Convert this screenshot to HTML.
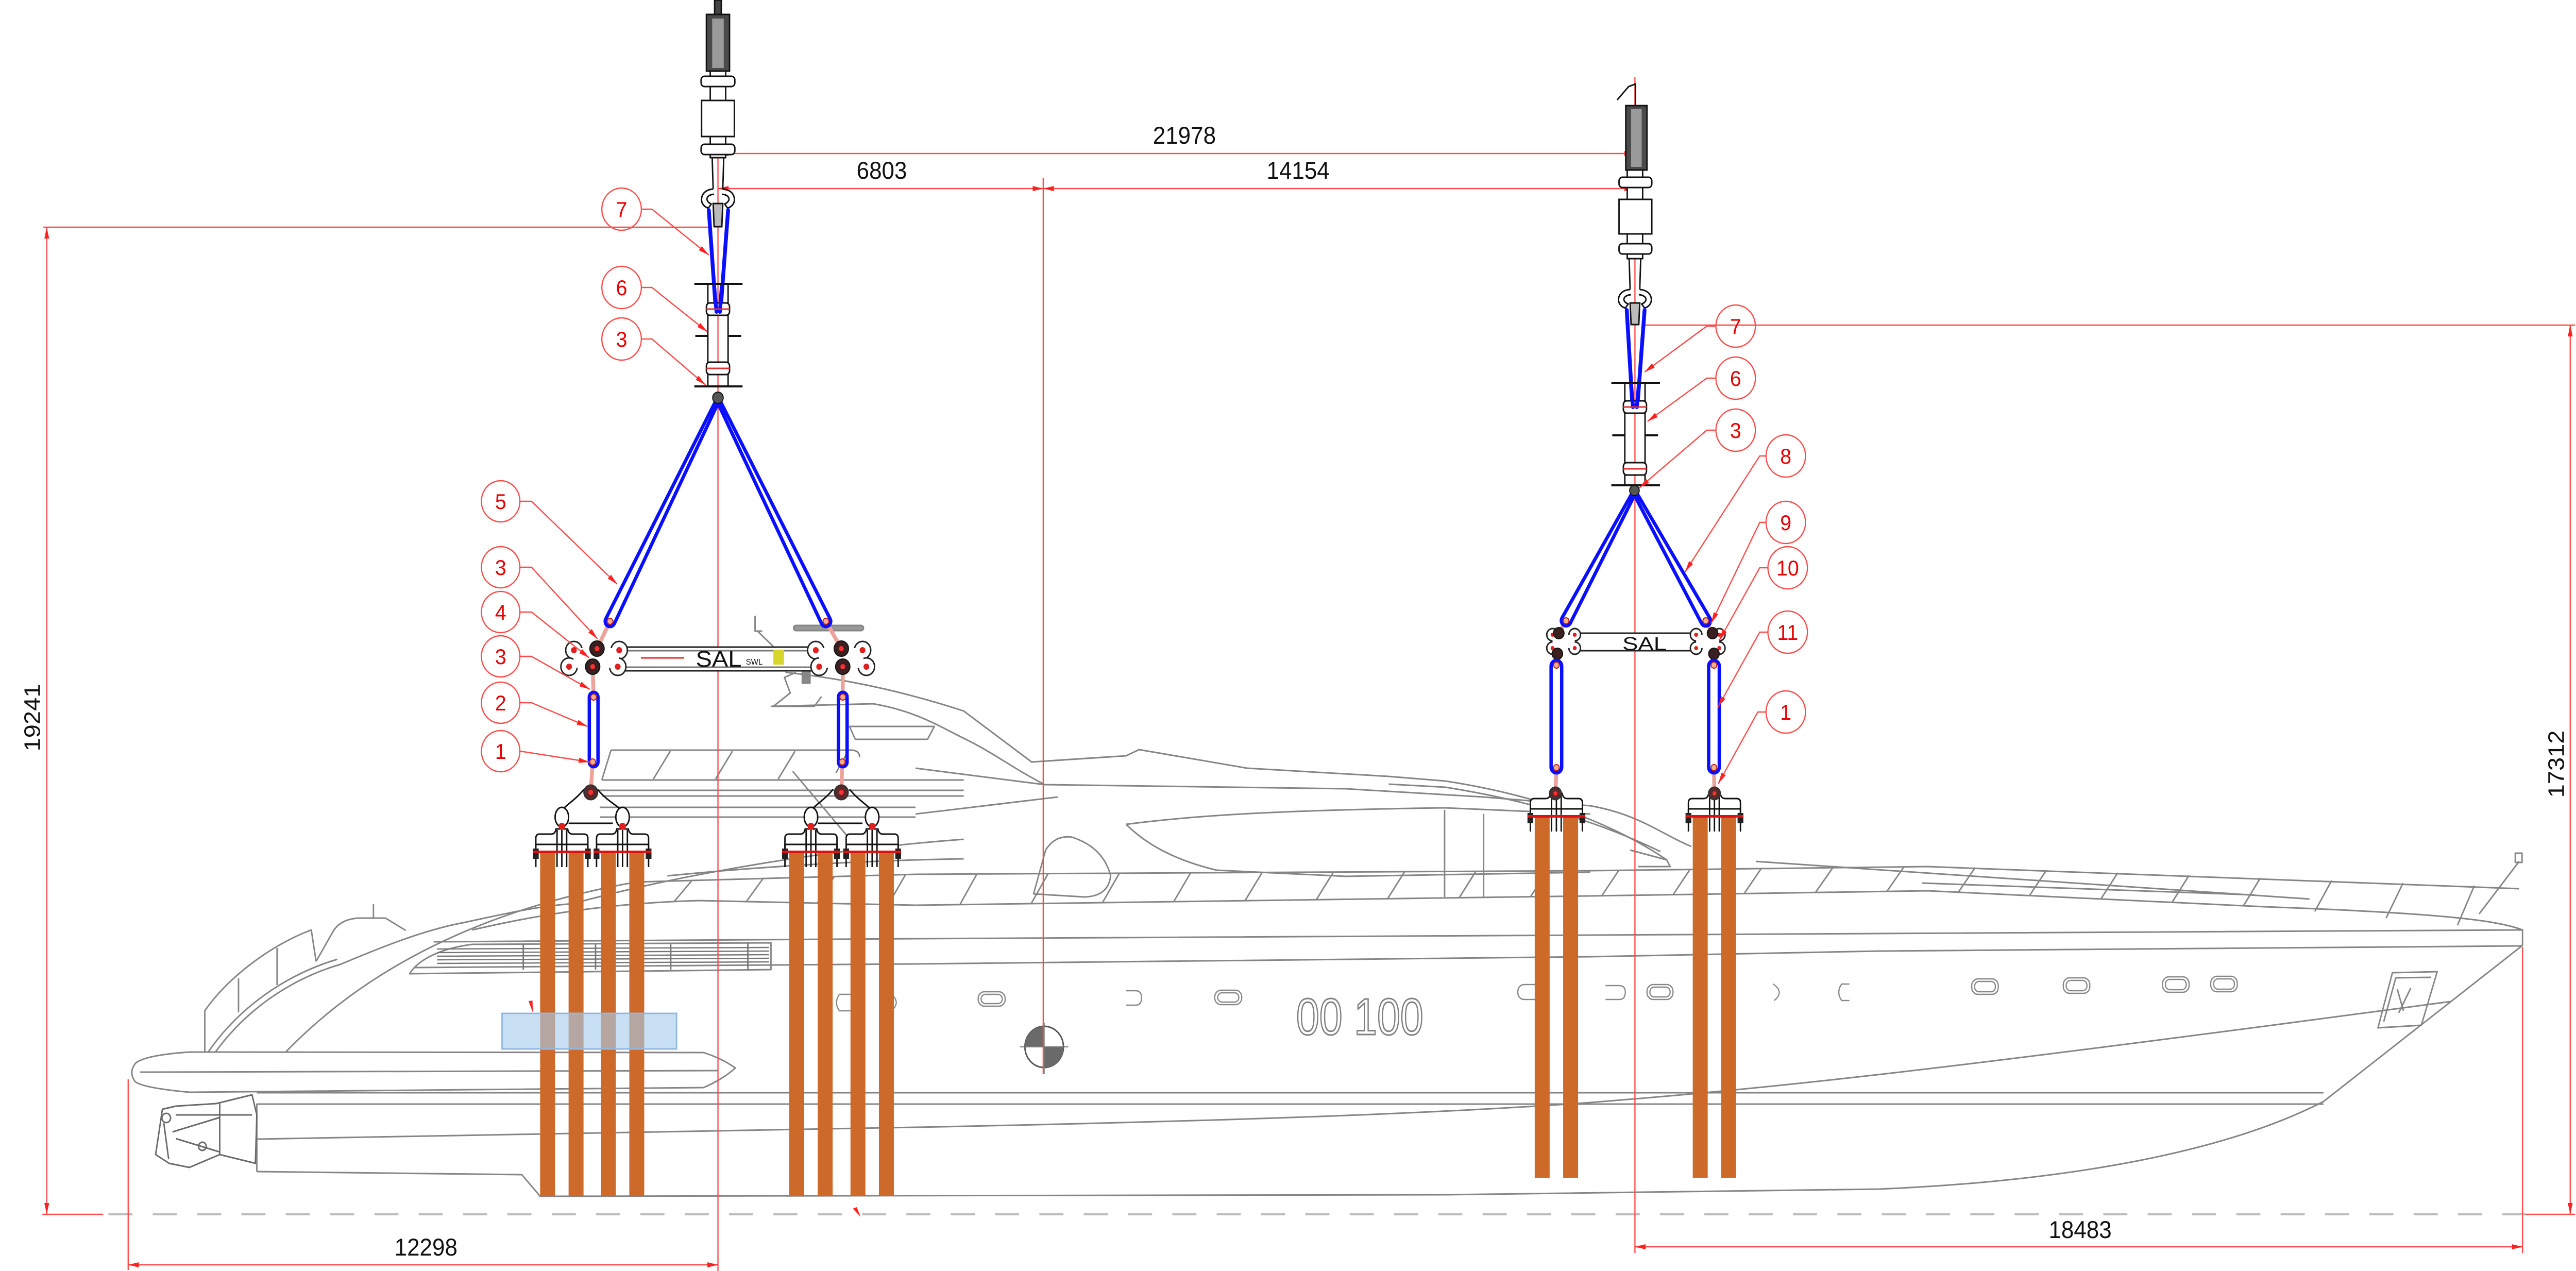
<!DOCTYPE html>
<html><head><meta charset="utf-8">
<meta name="viewport" content="width=device-width, initial-scale=1">
<style>
html,body{margin:0;padding:0;background:#fff;width:100%;height:100%;overflow:hidden;}
svg.main{display:block;position:fixed;left:0;top:0;width:100vw;height:100vh;}
text{font-family:"Liberation Sans",sans-serif;}
</style></head><body>
<svg class="main" xmlns="http://www.w3.org/2000/svg" viewBox="0 0 5346 2467" preserveAspectRatio="none" overflow="hidden">
<defs>
<marker id="a" markerUnits="userSpaceOnUse" markerWidth="22" markerHeight="12" viewBox="0 0 22 12" refX="22" refY="6" orient="auto-start-reverse"><path d="M0,1 L22,6 L0,11 z" fill="#ff2020"/></marker>
<clipPath id="cl1"><rect x="0" y="0" width="5346" height="2322"/></clipPath>
<clipPath id="cl2"><rect x="0" y="0" width="5346" height="2319"/></clipPath>
<g id="clamp">
  <path d="M-54,34 L-54,8 Q-54,0 -46,0 L-22,0 Q-14,0 -12,-10 L12,-10 Q14,0 22,0 L46,0 Q54,0 54,8 L54,34" stroke="#111" stroke-width="3" fill="#fff"/>
  <line x1="-54" y1="20" x2="54" y2="20" stroke="#111" stroke-width="3"/>
  <path d="M-10,-8 L-10,64 M0,-8 L0,64 M10,-8 L10,64 M-54,20 L-54,64 M54,20 L54,64" stroke="#111" stroke-width="3"/>
  <rect x="-60" y="28" width="12" height="20" fill="#222"/>
  <rect x="48" y="28" width="12" height="20" fill="#222"/>
  <rect x="-60" y="32" width="120" height="5" fill="#e01010"/>
</g>
<g id="strap2">
  <rect x="-45" y="0" width="31" height="700" fill="#cd6a2a"/>
  <rect x="14" y="0" width="31" height="700" fill="#cd6a2a"/>
</g>
</defs>
<rect x="0" y="0" width="5346" height="2467" fill="#fff"/>

<!-- ============ HULL (gray) ============ -->
<g fill="none" stroke="#858585" stroke-width="3" stroke-linejoin="round">
  <path d="M533,2274 L1083,2280 L1121,2322 L3000,2319 L3900,2308 C4300,2292 4620,2235 4822,2138 L5235,1835 L5235,1803"/>
  <path d="M533,2142 L533,2274"/>
  <path d="M533,2121 L4822,2121"/>
  <path d="M533,2143 L4822,2143"/>
  <path d="M533,2211 L1900,2188 C2600,2175 3000,2160 3300,2140 C3700,2110 4000,2080 5085,1944"/>
  <path d="M900,1828 L1900,1822 L3300,1815 L3900,1812 L5235,1805"/>
  <path d="M860,1878 L1900,1871 L3300,1857 L3900,1846 L5235,1836"/>
  <path d="M281,2064 Q300,2048 393,2042 L1460,2043 Q1500,2055 1526,2073 Q1500,2095 1460,2111 L393,2120 Q300,2112 281,2100 Q266,2082 281,2064 Z"/>
  <path d="M291,2081 L1490,2078"/>
  <path d="M323,2241 L337,2153 L365,2147 L449,2142 L523,2125 L533,2164 L530,2258 L456,2241 L393,2266 L351,2258 Z" stroke="#6a6a6a"/>
  <path d="M365,2164 L523,2164 M358,2197 L456,2169 M365,2210 L456,2236 M340,2180 L350,2250 M456,2142 L456,2241" stroke="#6a6a6a"/>
  <circle cx="345" cy="2170" r="9" stroke="#6a6a6a"/>
  <circle cx="420" cy="2225" r="8" stroke="#6a6a6a"/>
  <path d="M425,2042 L425,1962 C470,1900 560,1835 646,1805 L656,1866"/>
  <path d="M495,1965 L495,1899 M575,1912 L575,1840"/>
  <path d="M432,2042 C500,1950 600,1890 700,1862"/>
  <path d="M447,2042 C515,1955 610,1898 706,1872"/>
  <path d="M656,1866 L690,1810 C700,1792 720,1783 745,1782 L800,1782 L842,1806"/>
  <path d="M775,1782 L775,1755"/>
  <path d="M706,1872 C800,1835 870,1810 940,1795 C1020,1780 1100,1760 1189,1754"/>
  <path d="M593,2042 C760,1880 1000,1765 1320,1712 L1900,1697 L3300,1690 L4000,1682 L5228,1725"/>
  <path d="M980,1805 C1150,1768 1300,1752 1450,1748 L1900,1757 L3300,1739 L4000,1729 L4700,1760 C5050,1772 5180,1785 5235,1805"/>
  <path d="M1400,1749 L1435,1710 M1548,1751 L1583,1706 M1696,1753 L1731,1702 M1844,1755 L1879,1698 M1992,1756 L2027,1697 M2140,1754 L2175,1696 M2288,1752 L2323,1695 M2436,1750 L2471,1694 M2584,1748 L2619,1694 M2732,1746 L2767,1693 M2880,1744 L2915,1692 M3028,1743 L3063,1691 M3176,1741 L3211,1691 M3324,1739 L3359,1690 M3472,1737 L3507,1688 M3620,1734 L3655,1686 M3768,1732 L3803,1685 M3916,1730 L3951,1683 M4064,1732 L4099,1684 M4212,1738 L4247,1689 M4360,1745 L4395,1694 M4508,1751 L4543,1699 M4656,1758 L4691,1704 M4804,1769 L4839,1709 M4952,1782 L4987,1714 M5100,1796 L5135,1719"/>
  <path d="M5145,1774 L5228,1672"/>
  <rect x="5220" y="1656" width="14" height="18"/>
  <path d="M850,1890 C870,1860 920,1840 980,1833 L1600,1830 L1600,1882 L850,1890 Z"/>
  <path d="M907,1842 L1596,1839 M907,1849 L1596,1846 M907,1856 L1596,1853 M907,1863 L1596,1860 M907,1870 L1596,1867" stroke="#777" stroke-width="2.5"/>
  <path d="M1086,1833 L1086,1882 M1236,1833 L1236,1882 M1392,1833 L1392,1882 M1552,1830 L1552,1882" stroke="#777"/>
  <path d="M1268,1456 L1770,1456 Q1784,1458 1784,1470 M1249,1514 L2000,1514 M1268,1456 L1249,1514"/>
  <path d="M1391,1458 L1356,1512 M1520,1458 L1485,1512 M1650,1458 L1615,1512 M1735,1500 L1760,1458"/>
  <path d="M1242,1534 L2000,1534 M1250,1545 L2000,1545 M1245,1567 L1900,1567 M1245,1586 L1900,1586"/>
  <path d="M1189,1754 C1400,1700 1700,1650 2000,1629 M1385,1700 C1600,1680 1800,1670 2000,1667"/>
  <path d="M1645,1497 L1764,1629 M1763,1410 L1939,1410 L1925,1435 L1775,1435 Z"/>
  <path d="M1567,1195 L1567,1225 L1582,1225 M1572,1225 L1605,1255"/>
  <path d="M1605,1371 L1640,1345 L1628,1315 L1652,1305 M1605,1371 L1690,1371 L1705,1352"/>
  <rect x="1647" y="1214" width="145" height="10" rx="5" fill="#999"/>
  <rect x="1665" y="1300" width="16" height="26" fill="#888"/>
  <path d="M1630,1305 C1780,1320 1900,1350 2000,1380 L2141,1479 L2337,1467 L2364,1455 L2588,1491 L2882,1507 L3000,1516 C3200,1545 3350,1600 3459,1669"/>
  <path d="M1600,1371 L1812,1366 C1900,1380 1950,1410 2000,1433 C2060,1460 2100,1490 2168,1523 L2793,1531 L3079,1547 L3300,1564 C3400,1580 3450,1620 3510,1643"/>
  <path d="M1900,1491 L2168,1523 M1900,1580 L2195,1547 M2882,1522 L3000,1528 C3250,1565 3400,1632 3446,1653"/>
  <path d="M2337,1600 C2500,1580 2700,1572 2998,1568 L3300,1580"/>
  <path d="M2337,1600 C2380,1640 2440,1670 2525,1689 L2793,1701 L3300,1693"/>
  <path d="M2145,1735 L2170,1650 Q2190,1620 2225,1625 Q2290,1645 2305,1700 Q2300,1740 2250,1741 Z"/>
  <path d="M2998,1572 L2998,1741 M3079,1580 L3079,1741"/>
  <path d="M3383,1650 L3459,1669 L3466,1682 L3400,1682"/>
  <path d="M3644,1672 L4793,1745 M3989,1714 L4678,1737"/>
  <g stroke="#888" stroke-width="2.5">
    <rect x="2030" y="1925" width="56" height="28" rx="13"/><rect x="2036" y="1930" width="44" height="18" rx="9"/>
    <rect x="2521" y="1922" width="56" height="28" rx="13"/><rect x="2527" y="1927" width="44" height="18" rx="9"/>
    <rect x="3150" y="1911" width="56" height="29" rx="13"/>
    <rect x="3418" y="1911" width="54" height="29" rx="13"/><rect x="3424" y="1916" width="42" height="19" rx="9"/>
    <rect x="4092" y="1900" width="55" height="30" rx="13"/><rect x="4098" y="1905" width="43" height="20" rx="9"/>
    <rect x="4282" y="1898" width="55" height="30" rx="13"/><rect x="4288" y="1903" width="43" height="20" rx="9"/>
    <rect x="4488" y="1896" width="55" height="30" rx="13"/><rect x="4494" y="1901" width="43" height="20" rx="9"/>
    <rect x="4588" y="1895" width="55" height="30" rx="13"/><rect x="4594" y="1900" width="43" height="20" rx="9"/>
    <path d="M2337,1923 L2357,1923 Q2369,1923 2369,1937 Q2369,1951 2357,1951 L2337,1951"/>
    <path d="M3332,1913 L3360,1913 Q3373,1913 3373,1926 Q3373,1940 3360,1940 L3332,1940"/>
    <path d="M3680,1910 Q3704,1926 3682,1942"/>
    <path d="M3838,1910 L3822,1910 Q3810,1926 3822,1942 L3838,1942"/>
    <path d="M1765,1930 L1742,1930 Q1730,1946 1742,1962 L1765,1962"/>
    <path d="M1850,1930 Q1870,1946 1850,1962"/>
  </g>
  <path d="M4935,1995 L4965,1888 L5058,1886 L5025,1990 Z M4947,1983 L4972,1898 L5045,1897"/>
  <path d="M4975,1920 L4988,1962 M5003,1918 L4978,1966"/>
</g>
<text x="2690" y="2008" font-size="100" textLength="264" lengthAdjust="spacingAndGlyphs" fill="none" stroke="#808080" stroke-width="3">00 100</text>
<g>
  <circle cx="2167" cy="2032" r="40" fill="#fff" stroke="#555" stroke-width="3"/>
  <path d="M2167,2032 L2127,2032 A40,40 0 0,1 2167,1992 Z" fill="#6a6a6a"/>
  <path d="M2167,2032 L2207,2032 A40,40 0 0,1 2167,2072 Z" fill="#6a6a6a"/>
  <path d="M2117,2032 L2217,2032 M2167,1985 L2167,2085" stroke="#777" stroke-width="2"/>
</g>

<line x1="225" y1="2357" x2="5240" y2="2357" stroke="#bcbcbc" stroke-width="4" stroke-dasharray="50 42"/>

<!-- ============ RED DIMENSIONS ============ -->
<g stroke="#ff4a4a" stroke-width="2.5" fill="none">
  <line x1="1490" y1="0" x2="1490" y2="2467"/>
  <line x1="3393" y1="150" x2="3393" y2="2432"/>
  <line x1="2165" y1="345" x2="2165" y2="2085"/>
  <line x1="90" y1="441" x2="1472" y2="441"/>
  <line x1="3413" y1="631" x2="5344" y2="631"/>
  <line x1="88" y1="2357" x2="214" y2="2357"/>
  <line x1="5240" y1="2357" x2="5344" y2="2357"/>
  <line x1="266" y1="2095" x2="266" y2="2465"/>
  <line x1="5235" y1="1838" x2="5235" y2="2432"/>
  <line x1="1490" y1="298" x2="3393" y2="298" marker-start="url(#a)" marker-end="url(#a)"/>
  <line x1="1490" y1="366" x2="2165" y2="366" marker-start="url(#a)" marker-end="url(#a)"/>
  <line x1="2165" y1="366" x2="3393" y2="366" marker-start="url(#a)" marker-end="url(#a)"/>
  <line x1="97" y1="441" x2="97" y2="2357" marker-start="url(#a)" marker-end="url(#a)"/>
  <line x1="5334" y1="631" x2="5334" y2="2357" marker-start="url(#a)" marker-end="url(#a)"/>
  <line x1="266" y1="2455" x2="1490" y2="2455" marker-start="url(#a)" marker-end="url(#a)"/>
  <line x1="3393" y1="2420" x2="5235" y2="2420" marker-start="url(#a)" marker-end="url(#a)"/>
</g>
<path d="M1097,1943 L1105,1942 L1106,1966 Z" fill="#ff2020"/>
<path d="M1770,2346 L1778,2343 L1786,2362 Z" fill="#ff2020"/>

<g font-size="47" fill="#111" text-anchor="middle">
  <text x="2458" y="279">21978</text>
  <text x="1830" y="347">6803</text>
  <text x="2694" y="347">14154</text>
  <text x="884" y="2437">12298</text>
  <text x="4317" y="2403">18483</text>
  <text transform="translate(83,1393) rotate(-90)">19241</text>
  <text transform="translate(5321,1483) rotate(-90)">17312</text>
</g>

<!-- ============ STRAPS ============ -->
<g clip-path="url(#cl1)">
<use href="#strap2" transform="translate(1166,1651)"/>
<use href="#strap2" transform="translate(1292,1651)"/>
<use href="#strap2" transform="translate(1683,1651)"/>
<use href="#strap2" transform="translate(1810,1651)"/>
</g>
<g clip-path="url(#cl2)">
<use href="#strap2" transform="translate(3230,1586)"/>
<use href="#strap2" transform="translate(3558,1586)"/>
</g>
<rect x="1042" y="1967" width="362" height="69" fill="#a8cbec" fill-opacity="0.62" stroke="#8fb8e3" stroke-width="3"/>

<!-- ============ CLAMPS ============ -->
<use href="#clamp" transform="translate(1166,1619)"/>
<use href="#clamp" transform="translate(1292,1619)"/>
<use href="#clamp" transform="translate(1683,1619)"/>
<use href="#clamp" transform="translate(1810,1619)"/>
<use href="#clamp" transform="translate(3230,1550)"/>
<use href="#clamp" transform="translate(3558,1550)"/>
<g stroke="#111" stroke-width="3" fill="#fff">
  <path d="M1212,1532 C1195,1552 1175,1562 1160,1578 M1240,1532 C1257,1552 1278,1562 1298,1578 M1180,1598 L1272,1598" fill="none"/>
  <path d="M1729,1532 C1712,1552 1692,1562 1677,1578 M1763,1532 C1780,1552 1800,1562 1815,1578 M1697,1598 L1790,1598" fill="none"/>
  <ellipse cx="1166" cy="1586" rx="14" ry="19"/>
  <ellipse cx="1292" cy="1586" rx="14" ry="19"/>
  <ellipse cx="1683" cy="1586" rx="14" ry="19"/>
  <ellipse cx="1810" cy="1586" rx="14" ry="19"/>
</g>
<g fill="#e02020">
  <circle cx="1166" cy="1604" r="7"/><circle cx="1292" cy="1604" r="7"/>
  <circle cx="1683" cy="1604" r="7"/><circle cx="1810" cy="1604" r="7"/>
</g>

<g stroke="#eda39b" stroke-width="8" stroke-linecap="round">
  <line x1="1266" y1="1206" x2="1239" y2="1259"/>
  <line x1="1714" y1="1206" x2="1746" y2="1259"/>
  <line x1="1230" y1="1294" x2="1232" y2="1353"/>
  <line x1="1749" y1="1294" x2="1749" y2="1353"/>
  <line x1="1230" y1="1479" x2="1226" y2="1537"/>
  <line x1="1748" y1="1479" x2="1746" y2="1537"/>
  <line x1="3250" y1="1205" x2="3235" y2="1229"/>
  <line x1="3540" y1="1205" x2="3554" y2="1229"/>
  <line x1="3232" y1="1269" x2="3230" y2="1291"/>
  <line x1="3557" y1="1269" x2="3557" y2="1291"/>
  <line x1="3230" y1="1492" x2="3228" y2="1540"/>
  <line x1="3557" y1="1492" x2="3558" y2="1540"/>
</g>
<g stroke="#333" stroke-width="3" fill="#5a2a2a">
  <circle cx="1226" cy="1538" r="14"/><circle cx="1746" cy="1538" r="14"/>
  <circle cx="3228" cy="1540" r="12"/><circle cx="3558" cy="1540" r="12"/>
</g>
<g fill="#ff3030"><circle cx="1226" cy="1538" r="5"/><circle cx="1746" cy="1538" r="5"/><circle cx="3228" cy="1540" r="4"/><circle cx="3558" cy="1540" r="4"/></g>

<!-- ============ LEFT SPREADER ============ -->
<g stroke="#222" stroke-width="3" fill="#fff">
  <rect x="1290" y="1256" width="410" height="46"/>
  <line x1="1300" y1="1263" x2="1690" y2="1263" stroke="#777"/>
  <line x1="1300" y1="1295" x2="1690" y2="1295" stroke="#777"/>
  <circle cx="1191" cy="1262" r="17"/><circle cx="1181" cy="1294" r="17"/>
  <circle cx="1285" cy="1262" r="17"/><circle cx="1282" cy="1294" r="17"/>
  <circle cx="1693" cy="1262" r="17"/><circle cx="1700" cy="1294" r="17"/>
  <circle cx="1790" cy="1262" r="17"/><circle cx="1798" cy="1294" r="17"/>
</g>
<rect x="1190" y="1258" width="95" height="38" fill="#fff"/>
<rect x="1700" y="1258" width="92" height="38" fill="#fff"/>
<line x1="1330" y1="1277" x2="1420" y2="1277" stroke="#e03030" stroke-width="3"/>
<g fill="#e02020"><circle cx="1191" cy="1262" r="6"/><circle cx="1181" cy="1294" r="6"/><circle cx="1285" cy="1262" r="6"/><circle cx="1282" cy="1294" r="6"/><circle cx="1693" cy="1262" r="6"/><circle cx="1700" cy="1294" r="6"/><circle cx="1790" cy="1262" r="6"/><circle cx="1798" cy="1294" r="6"/></g>
<g fill="#3a2020" stroke="#111" stroke-width="2"><circle cx="1239" cy="1259" r="15"/><circle cx="1230" cy="1294" r="15"/><circle cx="1746" cy="1259" r="15"/><circle cx="1749" cy="1294" r="15"/></g>
<g fill="#ff3030"><circle cx="1239" cy="1259" r="5"/><circle cx="1230" cy="1294" r="5"/><circle cx="1746" cy="1259" r="5"/><circle cx="1749" cy="1294" r="5"/></g>
<text x="1444" y="1294" font-size="44" textLength="95" lengthAdjust="spacingAndGlyphs" fill="#111">SAL</text>
<text x="1548" y="1290" font-size="16" fill="#111">SWL</text>
<rect x="1605" y="1262" width="22" height="28" fill="#d6d62a"/>

<!-- ============ RIGHT SPREADER ============ -->
<g stroke="#222" stroke-width="3" fill="#fff">
  <rect x="3262" y="1229" width="268" height="34"/>
  <circle cx="3222" cy="1232" r="12"/><circle cx="3222" cy="1258" r="12"/>
  <circle cx="3268" cy="1232" r="12"/><circle cx="3268" cy="1258" r="12"/>
  <circle cx="3520" cy="1232" r="12"/><circle cx="3520" cy="1258" r="12"/>
  <circle cx="3568" cy="1232" r="12"/><circle cx="3568" cy="1258" r="12"/>
</g>
<rect x="3222" y="1232" width="46" height="26" fill="#fff"/>
<rect x="3520" y="1232" width="48" height="26" fill="#fff"/>
<g fill="#e02020"><circle cx="3222" cy="1232" r="4"/><circle cx="3222" cy="1258" r="4"/><circle cx="3268" cy="1232" r="4"/><circle cx="3268" cy="1258" r="4"/><circle cx="3520" cy="1232" r="4"/><circle cx="3520" cy="1258" r="4"/><circle cx="3568" cy="1232" r="4"/><circle cx="3568" cy="1258" r="4"/></g>
<g fill="#3a2020" stroke="#111" stroke-width="2"><circle cx="3235" cy="1229" r="11"/><circle cx="3232" cy="1269" r="11"/><circle cx="3554" cy="1229" r="11"/><circle cx="3557" cy="1269" r="11"/></g>
<text x="3367" y="1262" font-size="36" textLength="92" lengthAdjust="spacingAndGlyphs" fill="#111">SAL</text>

<!-- ============ LEFT CRANE HOOK ============ -->
<g stroke="#111" stroke-width="3" fill="#fff">
  <rect x="1483" y="0" width="14" height="30" fill="#444"/>
  <rect x="1466" y="28" width="48" height="110" fill="#4a4a4a"/>
  <rect x="1478" y="36" width="24" height="96" fill="#9a9a9a" stroke="none"/>
  <rect x="1474" y="138" width="32" height="57"/>
  <rect x="1455" y="148" width="70" height="20" rx="7"/>
  <rect x="1456" y="195" width="68" height="70"/>
  <rect x="1474" y="265" width="32" height="41"/>
  <rect x="1455" y="280" width="70" height="20" rx="7"/>
  <path d="M1478,306 L1480,367 M1502,306 L1500,367" fill="none"/>
  <path d="M1480,367 C1452,368 1448,398 1470,404 L1476,396 C1462,390 1465,378 1482,377" fill="none"/>
  <path d="M1500,367 C1528,368 1532,398 1510,404 L1504,396 C1518,390 1515,378 1498,377" fill="none"/>
  <path d="M1480,395 L1500,395 L1498,440 L1482,440 Z" fill="#bbb"/>
</g>
<g stroke="#0a10ff" stroke-width="8" stroke-linecap="round">
  <line x1="1471" y1="408" x2="1486" y2="608"/>
  <line x1="1511" y1="408" x2="1495" y2="608"/>
</g>
<g stroke="#111" stroke-width="4">
  <line x1="1441" y1="551" x2="1541" y2="551"/>
  <line x1="1443" y1="652" x2="1470" y2="652"/>
  <line x1="1511" y1="652" x2="1538" y2="652"/>
  <line x1="1441" y1="750" x2="1541" y2="750"/>
</g>
<g stroke="#111" stroke-width="3" fill="none">
  <rect x="1469" y="551" width="42" height="199"/>
  <rect x="1466" y="588" width="48" height="24" rx="7" fill="#fff"/>
  <rect x="1466" y="703" width="48" height="24" rx="7" fill="#fff"/>
</g>
<g stroke="#0a10ff" stroke-width="8" stroke-linecap="round">
  <line x1="1482" y1="556" x2="1487" y2="605"/>
  <line x1="1498" y1="556" x2="1494" y2="605"/>
</g>
<line x1="1466" y1="600" x2="1514" y2="600" stroke="#e03030" stroke-width="3"/>
<line x1="1466" y1="715" x2="1514" y2="715" stroke="#e03030" stroke-width="3"/>

<!-- ============ RIGHT CRANE HOOK ============ -->
<g stroke="#111" stroke-width="3" fill="#fff">
  <path d="M3356,194 L3380,168 L3394,163 L3394,205" fill="none"/>
  <rect x="3374" y="205" width="44" height="125" fill="#4a4a4a"/>
  <rect x="3385" y="212" width="22" height="112" fill="#9a9a9a" stroke="none"/>
  <rect x="3377" y="330" width="32" height="57"/>
  <rect x="3360" y="344" width="68" height="20" rx="7"/>
  <rect x="3360" y="387" width="68" height="67"/>
  <rect x="3377" y="454" width="32" height="48"/>
  <rect x="3360" y="473" width="68" height="20" rx="7"/>
  <path d="M3381,502 L3383,562 M3405,502 L3403,562" fill="none"/>
  <path d="M3383,562 C3355,563 3351,592 3373,598 L3379,590 C3365,585 3368,573 3385,572" fill="none"/>
  <path d="M3403,562 C3431,563 3435,592 3413,598 L3407,590 C3421,585 3418,573 3401,572" fill="none"/>
  <path d="M3383,588 L3403,588 L3401,630 L3385,630 Z" fill="#bbb"/>
</g>
<g stroke="#0a10ff" stroke-width="8" stroke-linecap="round">
  <line x1="3376" y1="602" x2="3388" y2="790"/>
  <line x1="3413" y1="602" x2="3398" y2="790"/>
</g>
<g stroke="#111" stroke-width="4">
  <line x1="3344" y1="743" x2="3445" y2="743"/>
  <line x1="3346" y1="845" x2="3372" y2="845"/>
  <line x1="3414" y1="845" x2="3441" y2="845"/>
  <line x1="3344" y1="942" x2="3445" y2="942"/>
</g>
<g stroke="#111" stroke-width="3" fill="none">
  <rect x="3372" y="743" width="42" height="199"/>
  <rect x="3369" y="778" width="48" height="24" rx="7" fill="#fff"/>
  <rect x="3369" y="898" width="48" height="24" rx="7" fill="#fff"/>
</g>
<g stroke="#0a10ff" stroke-width="8" stroke-linecap="round">
  <line x1="3385" y1="748" x2="3389" y2="790"/>
  <line x1="3401" y1="748" x2="3397" y2="790"/>
</g>
<line x1="3369" y1="790" x2="3417" y2="790" stroke="#e03030" stroke-width="3"/>
<line x1="3369" y1="910" x2="3417" y2="910" stroke="#e03030" stroke-width="3"/>

<!-- ============ SLINGS ============ -->
<g stroke="#0a10ff" stroke-width="7" fill="none" stroke-linejoin="round">
  <path d="M1492.7,777.4 L1274.9,1210.6 A10,10 0 0,1 1257.1,1201.4 L1487.3,774.6 Z"/>
  <path d="M1492.7,774.6 L1722.9,1201.4 A10,10 0 0,1 1705.1,1210.6 L1487.3,777.4 Z"/>
  <rect x="1223" y="1344" width="18" height="144" rx="9"/>
  <rect x="1740" y="1344" width="18" height="144" rx="9"/>
  <path d="M3394.6,956.5 L3258.7,1209.9 A10,10 0 0,1 3241.3,1200.1 L3389.4,953.5 Z"/>
  <path d="M3394.6,953.5 L3548.6,1199.9 A10,10 0 0,1 3531.4,1210.1 L3389.4,956.5 Z"/>
  <rect x="3219" y="1282" width="22" height="218" rx="11"/>
  <rect x="3546" y="1282" width="22" height="218" rx="11"/>
</g>
<g fill="#f3b08c" stroke="#c02020" stroke-width="2">
  <circle cx="1266" cy="1206" r="6"/><circle cx="1714" cy="1206" r="6"/>
  <circle cx="1232" cy="1353" r="6"/><circle cx="1230" cy="1479" r="6"/>
  <circle cx="1749" cy="1353" r="6"/><circle cx="1748" cy="1479" r="6"/>
  <circle cx="3250" cy="1205" r="6"/><circle cx="3540" cy="1205" r="6"/>
  <circle cx="3230" cy="1291" r="6"/><circle cx="3230" cy="1490" r="6"/>
  <circle cx="3557" cy="1291" r="6"/><circle cx="3557" cy="1490" r="6"/>
</g>
<circle cx="1490" cy="772" r="11" fill="#555" stroke="#111" stroke-width="2"/>
<circle cx="3392" cy="952" r="10" fill="#555" stroke="#111" stroke-width="2"/>

<!-- ============ BALLOONS ============ -->
<g stroke="#ff4a4a" stroke-width="2.5" fill="none">
  <circle cx="1039" cy="973" r="40"/><circle cx="1039" cy="1101" r="40"/><circle cx="1039" cy="1188" r="40"/>
  <circle cx="1039" cy="1274" r="40"/><circle cx="1039" cy="1364" r="40"/><circle cx="1039" cy="1458" r="40"/>
  <circle cx="1290" cy="406" r="41"/><circle cx="1290" cy="558" r="41"/><circle cx="1290" cy="658" r="41"/>
  <circle cx="3602" cy="633" r="41"/><circle cx="3602" cy="734" r="41"/><circle cx="3602" cy="835" r="41"/>
  <circle cx="3706" cy="885" r="41"/><circle cx="3706" cy="1014" r="41"/><circle cx="3710" cy="1102" r="41"/>
  <circle cx="3710" cy="1227" r="41"/><circle cx="3706" cy="1382" r="41"/>
  <path d="M1079,973 L1103,973 L1281,1134" marker-end="url(#a)"/>
  <path d="M1079,1101 L1103,1101 L1240,1240" marker-end="url(#a)"/>
  <path d="M1079,1188 L1103,1188 L1223,1277" marker-end="url(#a)"/>
  <path d="M1079,1274 L1103,1274 L1224,1338" marker-end="url(#a)"/>
  <path d="M1079,1364 L1103,1364 L1219,1410" marker-end="url(#a)"/>
  <path d="M1079,1458 L1100,1461 L1223,1479" marker-end="url(#a)"/>
  <path d="M1331,406 L1353,406 L1471,495" marker-end="url(#a)"/>
  <path d="M1331,558 L1353,558 L1468,644" marker-end="url(#a)"/>
  <path d="M1331,658 L1353,658 L1464,747" marker-end="url(#a)"/>
  <path d="M3561,633 L3542,633 L3413,722" marker-end="url(#a)"/>
  <path d="M3561,734 L3542,734 L3419,818" marker-end="url(#a)"/>
  <path d="M3561,835 L3542,835 L3402,947" marker-end="url(#a)"/>
  <path d="M3665,885 L3652,885 L3497,1110" marker-end="url(#a)"/>
  <path d="M3665,1014 L3652,1014 L3551,1210" marker-end="url(#a)"/>
  <path d="M3669,1102 L3652,1102 L3568,1243" marker-end="url(#a)"/>
  <path d="M3669,1227 L3652,1227 L3565,1373" marker-end="url(#a)"/>
  <path d="M3665,1382 L3648,1382 L3566,1521" marker-end="url(#a)"/>
</g>
<g font-size="42" fill="#e80000" text-anchor="middle">
  <text x="1039" y="988">5</text><text x="1039" y="1116">3</text><text x="1039" y="1203">4</text>
  <text x="1039" y="1289">3</text><text x="1039" y="1379">2</text><text x="1039" y="1473">1</text>
  <text x="1290" y="421">7</text><text x="1290" y="573">6</text><text x="1290" y="673">3</text>
  <text x="3602" y="648">7</text><text x="3602" y="749">6</text><text x="3602" y="850">3</text>
  <text x="3706" y="900">8</text><text x="3706" y="1029">9</text><text x="3710" y="1117">10</text>
  <text x="3710" y="1242">11</text><text x="3706" y="1397">1</text>
</g>
</svg>
</body></html>
